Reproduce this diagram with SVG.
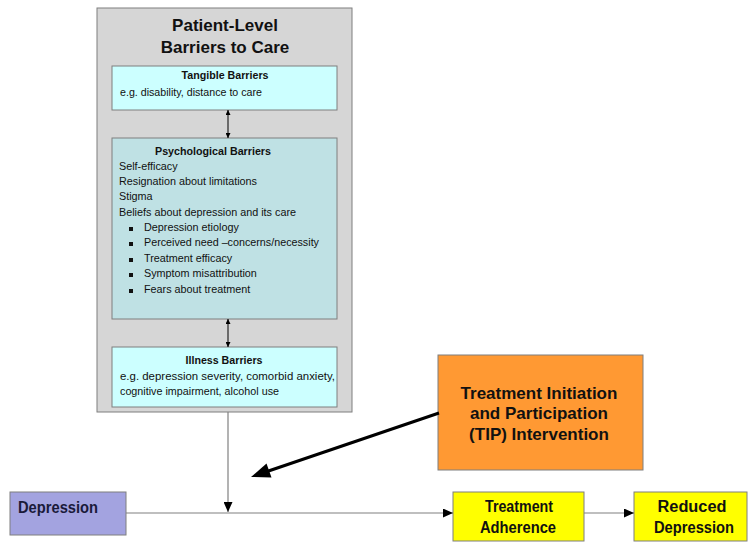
<svg xmlns="http://www.w3.org/2000/svg" width="749" height="543" viewBox="0 0 749 543">
<style>
text{font-family:"Liberation Sans",Arial,sans-serif;fill:#111}
.box{stroke:#7f7f7f;stroke-width:1}
.h{font-weight:bold;font-size:11px}
.t{font-size:10.8px}
.big{font-weight:bold;font-size:17px}
.lab{font-weight:bold;font-size:16px}
.thin{stroke:#808080;stroke-width:1.2;fill:none}
.blk{stroke:#000;stroke-width:1;fill:none}
</style>
<defs>
<marker id="sh" viewBox="0 0 10 10" refX="10" refY="5" markerWidth="5" markerHeight="5" markerUnits="userSpaceOnUse" orient="auto-start-reverse"><path d="M0,0 L10,5 L0,10 Z" fill="#000"/></marker>
<marker id="mh" viewBox="0 0 10 10" refX="10" refY="5" markerWidth="10" markerHeight="9" markerUnits="userSpaceOnUse" orient="auto" preserveAspectRatio="none"><path d="M0,0 L10,5 L0,10 Z" fill="#000"/></marker>
</defs>

<g id="barriers">
<rect class="box" x="97" y="8" width="255" height="404" fill="#d6d6d6"/>
<text class="big" x="225" y="31" text-anchor="middle">Patient-Level</text>
<text class="big" x="225" y="53" text-anchor="middle">Barriers to Care</text>
</g>

<g id="tangible">
<rect class="box" x="112" y="66" width="225" height="44" fill="#ccffff"/>
<text class="h" x="225" y="79" text-anchor="middle" textLength="87" lengthAdjust="spacingAndGlyphs">Tangible Barriers</text>
<text class="t" x="120" y="96" textLength="142" lengthAdjust="spacingAndGlyphs">e.g. disability, distance to care</text>
</g>

<g id="psychological">
<rect class="box" x="112" y="138" width="225" height="181" fill="#bfe1e4"/>
<text class="h" x="155" y="155" textLength="116" lengthAdjust="spacingAndGlyphs">Psychological Barriers</text>
<text class="t" x="119" y="170">Self-efficacy</text>
<text class="t" x="119" y="185" textLength="138" lengthAdjust="spacingAndGlyphs">Resignation about limitations</text>
<text class="t" x="119" y="200">Stigma</text>
<text class="t" x="119" y="216" textLength="177" lengthAdjust="spacingAndGlyphs">Beliefs about depression and its care</text>
<g fill="#111">
<rect x="129" y="227" width="4" height="4"/>
<rect x="129" y="242" width="4" height="4"/>
<rect x="129" y="258" width="4" height="4"/>
<rect x="129" y="273" width="4" height="4"/>
<rect x="129" y="289" width="4" height="4"/>
</g>
<text class="t" x="144" y="231">Depression etiology</text>
<text class="t" x="144" y="246" textLength="175" lengthAdjust="spacingAndGlyphs">Perceived need –concerns/necessity</text>
<text class="t" x="144" y="262">Treatment efficacy</text>
<text class="t" x="144" y="277">Symptom misattribution</text>
<text class="t" x="144" y="293">Fears about treatment</text>
</g>

<g id="illness">
<rect class="box" x="112" y="347" width="225" height="60" fill="#ccffff"/>
<text class="h" x="224" y="364" text-anchor="middle" textLength="77" lengthAdjust="spacingAndGlyphs">Illness Barriers</text>
<text class="t" x="120" y="380" textLength="215" lengthAdjust="spacingAndGlyphs">e.g. depression severity, comorbid anxiety,</text>
<text class="t" x="120" y="395" textLength="159" lengthAdjust="spacingAndGlyphs">cognitive impairment, alcohol use</text>
</g>

<g id="tip">
<rect class="box" x="438" y="355" width="205" height="115" fill="#ff9933"/>
<text class="big" x="539" y="399" text-anchor="middle">Treatment Initiation</text>
<text class="big" x="539" y="419" text-anchor="middle">and Participation</text>
<text class="big" x="539" y="440" text-anchor="middle">(TIP) Intervention</text>
</g>

<g id="depression">
<rect class="box" x="10" y="492" width="116" height="43" fill="#a3a3e0"/>
<text class="lab" x="18" y="513" textLength="80" lengthAdjust="spacingAndGlyphs" style="fill:#1a1a3a;font-size:17px">Depression</text>
</g>

<g id="adherence">
<rect class="box" x="453" y="492" width="131" height="49" fill="#ffff00"/>
<text class="lab" x="519" y="512" text-anchor="middle" textLength="68" lengthAdjust="spacingAndGlyphs">Treatment</text>
<text class="lab" x="518" y="533" text-anchor="middle" textLength="76" lengthAdjust="spacingAndGlyphs">Adherence</text>
</g>

<g id="reduced">
<rect class="box" x="634" y="492" width="113" height="49" fill="#ffff00"/>
<text class="lab" x="692" y="512" text-anchor="middle" textLength="69" lengthAdjust="spacingAndGlyphs">Reduced</text>
<text class="lab" x="694" y="533" text-anchor="middle" textLength="80" lengthAdjust="spacingAndGlyphs">Depression</text>
</g>

<g id="connectors">
<line class="blk" x1="228" y1="110" x2="228" y2="138" marker-start="url(#sh)" marker-end="url(#sh)"/>
<line class="blk" x1="228" y1="319" x2="228" y2="347" marker-start="url(#sh)" marker-end="url(#sh)"/>
<line class="thin" x1="228" y1="412" x2="228" y2="512" marker-end="url(#mh)"/>
<line class="thin" x1="126" y1="513" x2="453" y2="513" marker-end="url(#mh)"/>
<line class="thin" x1="584" y1="513" x2="634" y2="513" marker-end="url(#mh)"/>
<line x1="439" y1="413" x2="267" y2="471.5" stroke="#000" stroke-width="3"/>
<polygon points="251,477 271.5,477.5 266.5,463.5" fill="#000"/>
</g>
</svg>
